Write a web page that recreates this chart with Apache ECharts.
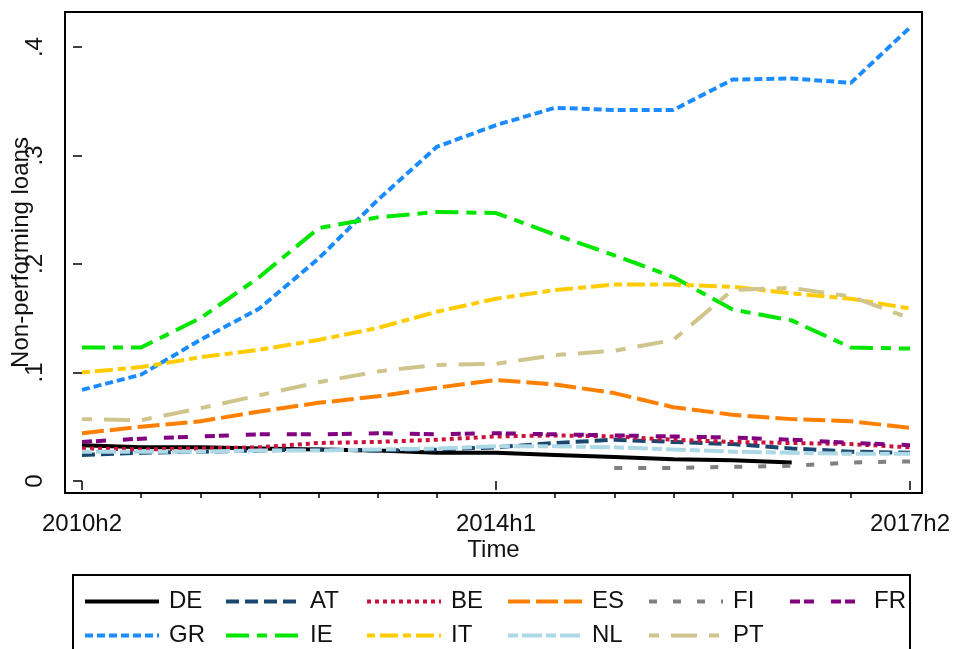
<!DOCTYPE html>
<html>
<head>
<meta charset="utf-8">
<script src="https://cdn.jsdelivr.net/npm/echarts@6/dist/echarts.min.js"></script>
<style>
  html, body { margin: 0; padding: 0; background: #fff; }
  #chart { width: 953px; height: 649px; }
</style>
</head>
<body>
<div id="chart"></div>
<script>
// half-year periods, 2010h2 .. 2017h2
const periods = ['2010h2', '2011h1', '2011h2', '2012h1', '2012h2', '2013h1', '2013h2', '2014h1',
  '2014h2', '2015h1', '2015h2', '2016h1', '2016h2', '2017h1', '2017h2']
const labelledPeriods = [0, 7, 14]

const DE = [0.033, 0.031, 0.031, 0.030, 0.029, 0.028, 0.026, 0.026, 0.024, 0.022, 0.020, 0.019, 0.017, null, null]
const AT = [0.024, 0.026, 0.027, 0.028, 0.029, 0.028, 0.029, 0.031, 0.035, 0.038, 0.036, 0.034, 0.030, 0.027, 0.026]
const BE = [0.030, 0.029, 0.030, 0.031, 0.035, 0.036, 0.038, 0.041, 0.042, 0.041, 0.038, 0.036, 0.035, 0.034, 0.031]
const ES = [0.044, 0.050, 0.055, 0.064, 0.072, 0.078, 0.086, 0.093, 0.089, 0.081, 0.068, 0.061, 0.057, 0.055, 0.049]
const FI = [null, null, null, null, null, null, null, null, null, 0.012, 0.012, 0.013, 0.014, 0.017, 0.018]
const FR = [0.036, 0.039, 0.041, 0.043, 0.043, 0.044, 0.043, 0.044, 0.043, 0.042, 0.041, 0.040, 0.038, 0.035, 0.033]
const GR = [0.084, 0.098, 0.130, 0.159, 0.205, 0.259, 0.308, 0.328, 0.344, 0.342, 0.342, 0.370, 0.371, 0.367, 0.418]
const IE = [0.123, 0.123, 0.150, 0.188, 0.233, 0.243, 0.248, 0.247, 0.227, 0.208, 0.188, 0.158, 0.148, 0.123, 0.122]
const IT = [0.100, 0.105, 0.114, 0.121, 0.130, 0.141, 0.156, 0.168, 0.176, 0.181, 0.181, 0.179, 0.173, 0.168, 0.159]
const NL = [0.027, 0.027, 0.027, 0.028, 0.028, 0.029, 0.030, 0.032, 0.032, 0.031, 0.029, 0.027, 0.026, 0.025, 0.025]
const PT = [0.057, 0.056, 0.067, 0.079, 0.091, 0.101, 0.107, 0.108, 0.116, 0.120, 0.130, 0.176, 0.178, 0.170, 0.150]

const yTicks = [0, 0.1, 0.2, 0.3, 0.4]

const FONT = 'Arial, "Liberation Sans", sans-serif'

// country, values, colour, dash pattern
const countries = [
  ['DE', DE, '#000000', 'solid'],
  ['AT', AT, '#1a476f', [13, 6]],
  ['BE', BE, '#c8143c', [4, 4]],
  ['ES', ES, '#ff8000', [22, 6]],
  ['FI', FI, '#808080', [8, 16]],
  ['FR', FR, '#800080', [10, 4, 10, 17]],
  ['GR', GR, '#1a8cff', [8, 4]],
  ['IE', IE, '#00e600', [23, 8, 10, 8]],
  ['IT', IT, '#ffcc00', [8, 5, 18, 5]],
  ['NL', NL, '#add8e6', [10, 4, 20, 4]],
  ['PT', PT, '#cfc48c', [10, 12, 26, 12]]
]

const series = countries.map(([name, values, color, dash]) => ({
  name,
  type: 'line',
  symbol: 'none',
  data: values.map((v, i) => [i, v]).filter(p => p[1] !== null),
  itemStyle: { color },
  lineStyle: { color, width: 4, type: dash, cap: 'butt' },
  emphasis: { disabled: true }
}))

// plot region has a margin inside the frame, as in Stata
const xPad = [0.287, 0.203]
const yPad = [0.0111, 0.0323]

const chart = echarts.init(document.getElementById('chart'))

const tickStyle = { color: '#000', width: 1.5 }

chart.setOption({
  animation: false,
  backgroundColor: '#fff',
  textStyle: { fontFamily: FONT, color: '#111' },
  grid: {
    left: 65, right: 31, top: 12, bottom: 156,
    show: true, borderColor: '#000', borderWidth: 2,
    containLabel: false, outerBoundsMode: 'none'
  },
  xAxis: [
    {
      type: 'value',
      min: -xPad[0],
      max: periods.length - 1 + xPad[1],
      axisLine: { show: false },
      axisTick: { show: true, length: 9, lineStyle: tickStyle, customValues: labelledPeriods },
      splitLine: { show: false },
      axisLabel: {
        fontSize: 24, color: '#111', margin: 19, fontFamily: FONT,
        customValues: labelledPeriods,
        formatter: v => periods[Math.round(v)]
      },
      name: 'Time',
      nameLocation: 'middle',
      nameGap: 45,
      nameMoveOverlap: false,
      nameTextStyle: { fontSize: 24, color: '#111', fontFamily: FONT }
    },
    {
      // short ticks for the unlabelled half-years
      type: 'value',
      position: 'bottom',
      min: -xPad[0],
      max: periods.length - 1 + xPad[1],
      axisLine: { show: false },
      axisTick: {
        show: true, length: 5, lineStyle: tickStyle,
        customValues: periods.map((p, i) => i).filter(i => !labelledPeriods.includes(i))
      },
      splitLine: { show: false },
      axisLabel: { show: false }
    }
  ],
  yAxis: {
    type: 'value',
    min: yTicks[0] - yPad[0],
    max: yTicks[yTicks.length - 1] + yPad[1],
    axisLine: { show: false },
    axisTick: { show: true, length: 9, lineStyle: tickStyle, customValues: yTicks },
    splitLine: { show: false },
    axisLabel: {
      fontSize: 24, color: '#111', margin: 18, rotate: 90, fontFamily: FONT,
      customValues: yTicks,
      formatter: v => v === 0 ? '0' : v.toFixed(1).replace(/^0/, '')
    },
    name: 'Non-performing loans',
    nameLocation: 'middle',
    nameRotate: 90,
    nameGap: 32,
    nameMoveOverlap: false,
    nameTextStyle: { fontSize: 24, color: '#111', fontFamily: FONT }
  },
  legend: {
    left: 83,
    top: 588,
    width: 870,
    padding: 0,
    itemWidth: 74,
    itemHeight: 14,
    itemGap: 7,
    icon: 'inherit',
    selectedMode: false,
    data: countries.map(c => c[0]),
    itemStyle: { opacity: 0 },
    lineStyle: { width: 4, cap: 'butt' },
    textStyle: { fontSize: 24, color: '#111', width: 48, lineHeight: 27, padding: [0, 0, 0, 5], fontFamily: FONT }
  },
  graphic: [
    {
      type: 'rect',
      shape: { x: 73, y: 575, width: 837, height: 100 },
      style: { fill: 'none', stroke: '#000', lineWidth: 2 },
      silent: true
    }
  ],
  series
})
</script>
</body>
</html>
